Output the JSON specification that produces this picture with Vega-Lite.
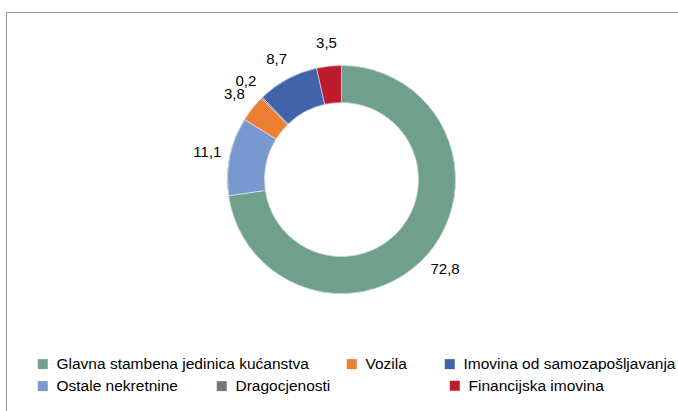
{
  "$schema": "https://vega.github.io/schema/vega-lite/v6.json",
  "width": 672,
  "height": 399,
  "autosize": {"type": "none"},
  "padding": {"left": 6, "top": 12, "right": 0, "bottom": 0},
  "background": "white",
  "config": {
    "view": {"stroke": null},
    "font": "Liberation Sans",
    "legend": {
      "padding": 0,
      "symbolType": "square",
      "symbolSize": 100,
      "symbolStrokeWidth": 0,
      "labelFontSize": 15.5,
      "labelFont": "Liberation Sans",
      "labelColor": "#000000",
      "labelOffset": 6,
      "labelLimit": 400,
      "title": null
    }
  },
  "data": {
    "values": [
      {"cat": "Glavna stambena jedinica kućanstva", "v": 72.8, "label": "72,8", "ord": 1},
      {"cat": "Ostale nekretnine", "v": 11.1, "label": "11,1", "ord": 2},
      {"cat": "Vozila", "v": 3.8, "label": "3,8", "ord": 3},
      {"cat": "Dragocjenosti", "v": 0.2, "label": "0,2", "ord": 4},
      {"cat": "Imovina od samozapošljavanja", "v": 8.7, "label": "8,7", "ord": 5},
      {"cat": "Financijska imovina", "v": 3.5, "label": "3,5", "ord": 6}
    ]
  },
  "layer": [
    {
      "mark": {"type": "point", "opacity": 0},
      "encoding": {
        "x": {"datum": 0, "type": "quantitative", "scale": {"domain": [0, 1]}, "axis": {"orient": "top", "domainColor": "#999999", "domainWidth": 1, "ticks": false, "labels": false, "grid": false, "title": null, "offset": 0}},
        "y": {"datum": 0, "type": "quantitative", "scale": {"domain": [0, 1]}, "axis": {"orient": "left", "domainColor": "#999999", "domainWidth": 1, "ticks": false, "labels": false, "grid": false, "title": null, "offset": 0}}
      }
    },
    {
      "mark": {"type": "arc", "radius": 114, "radius2": 77, "x": {"expr": "width/2 - 0.5"}, "y": {"expr": "height/2 - 32"}, "fill": "#bc1c2c", "strokeWidth": 0.5},
      "encoding": {
        "theta": {"field": "v", "type": "quantitative", "stack": true},
        "order": {"field": "ord", "type": "quantitative"},
        "stroke": {
          "field": "cat", "type": "nominal",
          "scale": {
            "domain": ["Financijska imovina", "Glavna stambena jedinica kućanstva", "Vozila", "Imovina od samozapošljavanja", "Ostale nekretnine", "Dragocjenosti"],
            "range": ["#bc1c2c", "#6fa08c", "#ee7e32", "#4163ab", "#7899cf", "#77787b"]
          },
          "legend": {"values": ["Financijska imovina"], "orient": "none", "legendX": 441, "legendY": 366, "direction": "horizontal", "symbolFillColor": "#bc1c2c", "title": null}
        }
      }
    },
    {
      "mark": {"type": "arc", "radius": 114, "radius2": 77, "x": {"expr": "width/2 - 0.5"}, "y": {"expr": "height/2 - 32"}, "stroke": "white", "strokeWidth": 0.5},
      "encoding": {
        "theta": {"field": "v", "type": "quantitative", "stack": true},
        "order": {"field": "ord", "type": "quantitative"},
        "color": {
          "field": "cat", "type": "nominal",
          "scale": {
            "domain": ["Glavna stambena jedinica kućanstva", "Vozila", "Imovina od samozapošljavanja", "Ostale nekretnine", "Dragocjenosti", "Financijska imovina"],
            "range": ["#6fa08c", "#ee7e32", "#4163ab", "#7899cf", "#77787b", "#bc1c2c"]
          },
          "legend": {"values": ["Glavna stambena jedinica kućanstva", "Vozila", "Imovina od samozapošljavanja"], "orient": "none", "legendX": 29, "legendY": 344, "direction": "horizontal", "columnPadding": 35, "title": null}
        }
      }
    },
    {
      "mark": {"type": "arc", "radius": 114, "radius2": 77, "x": {"expr": "width/2 - 0.5"}, "y": {"expr": "height/2 - 32"}, "stroke": "white", "strokeWidth": 0.5},
      "encoding": {
        "theta": {"field": "v", "type": "quantitative", "stack": true},
        "order": {"field": "ord", "type": "quantitative"},
        "fill": {
          "field": "cat", "type": "nominal",
          "scale": {
            "domain": ["Ostale nekretnine", "Dragocjenosti", "Financijska imovina", "Glavna stambena jedinica kućanstva", "Vozila", "Imovina od samozapošljavanja"],
            "range": ["#7899cf", "#77787b", "#bc1c2c", "#6fa08c", "#ee7e32", "#4163ab"]
          },
          "legend": {"values": ["Ostale nekretnine", "Dragocjenosti"], "orient": "none", "legendX": 29, "legendY": 366, "direction": "horizontal", "columnPadding": 36, "title": null}
        }
      }
    },
    {
      "mark": {"type": "text", "radius": 137, "x": {"expr": "width/2 - 0.5"}, "y": {"expr": "height/2 - 32"}, "fontSize": 15, "font": "Liberation Sans", "color": "#000000", "align": "center", "baseline": "middle"},
      "encoding": {
        "theta": {"field": "v", "type": "quantitative", "stack": true},
        "order": {"field": "ord", "type": "quantitative"},
        "text": {"field": "label", "type": "nominal"}
      }
    }
  ]
}
